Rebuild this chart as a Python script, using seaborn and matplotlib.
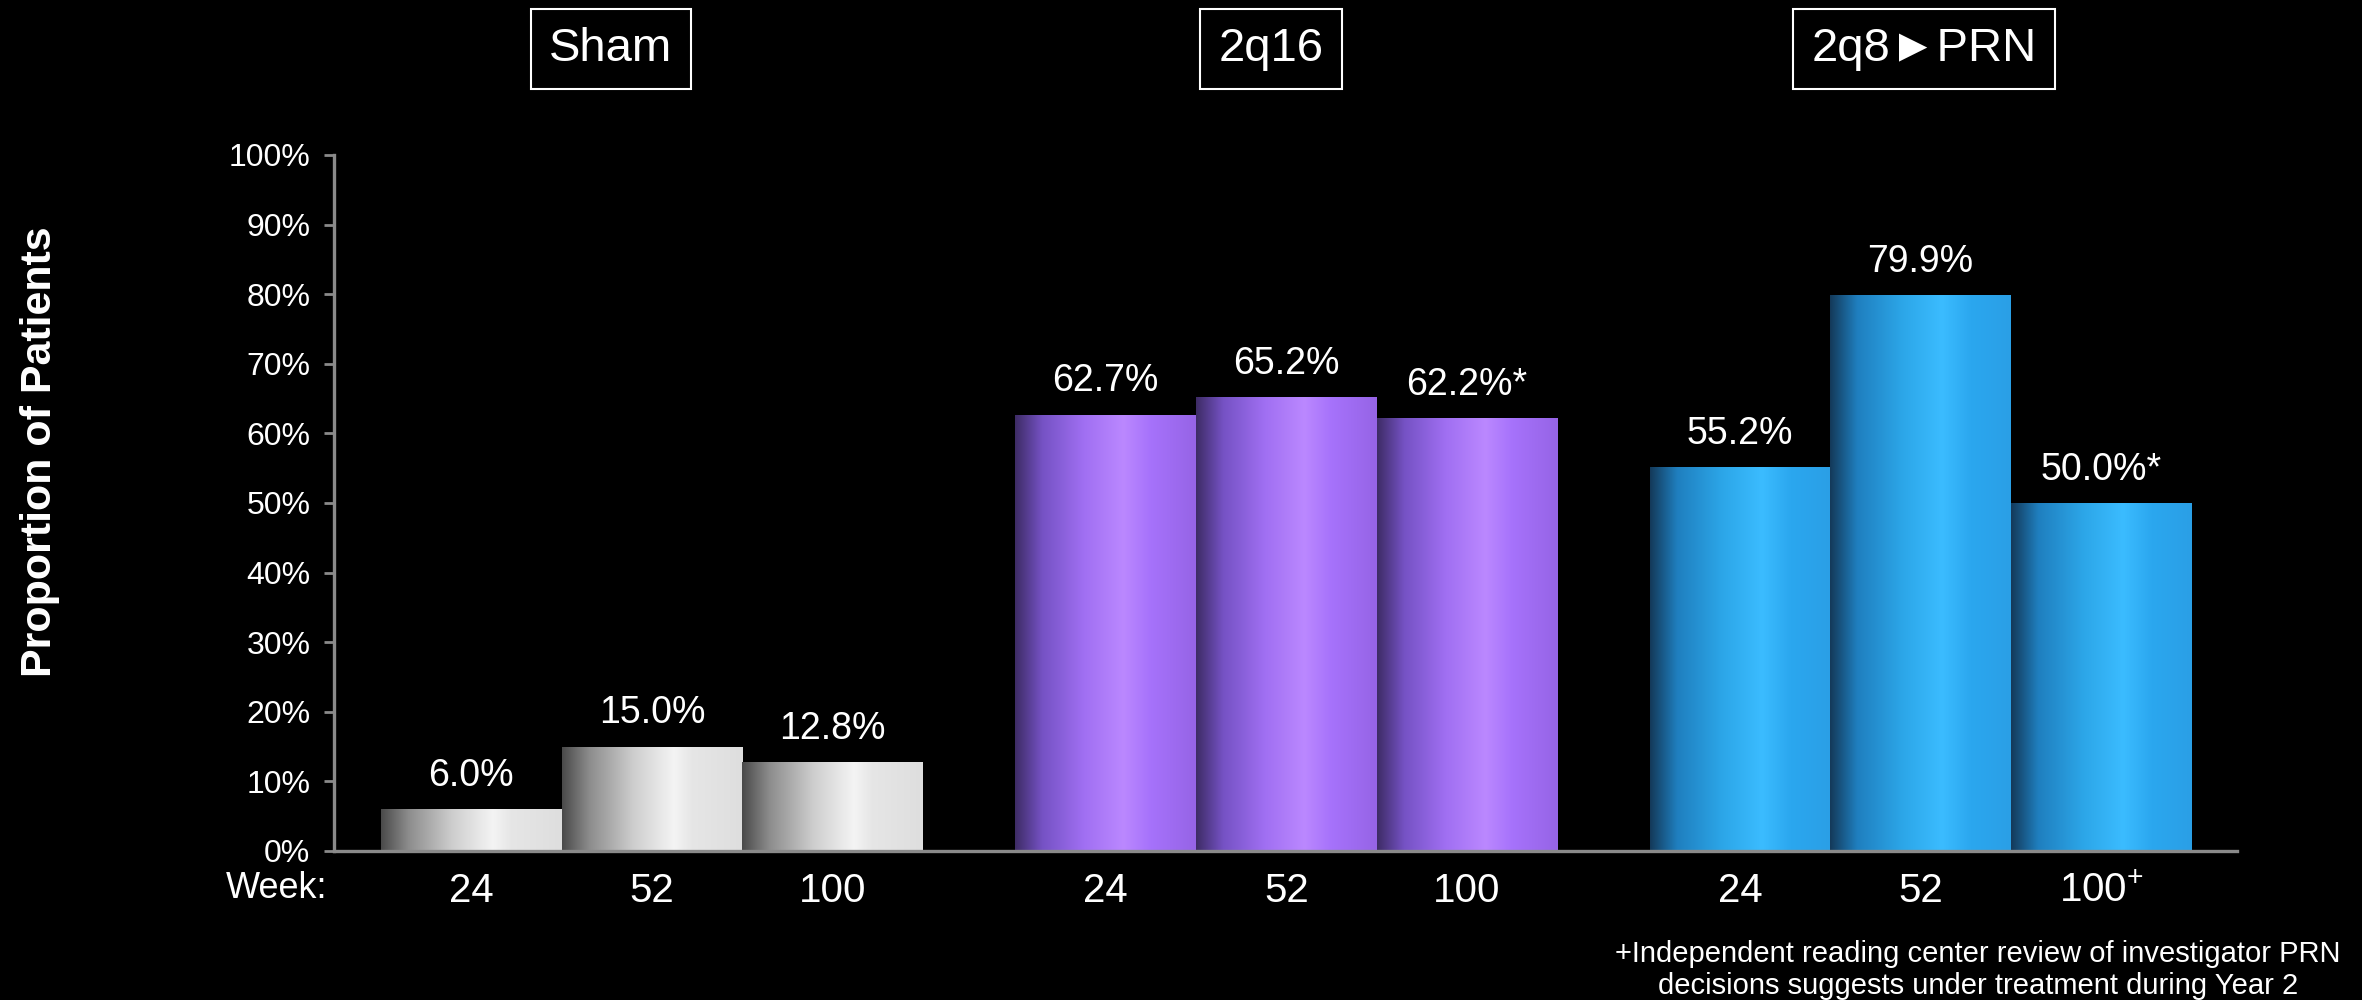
import numpy as np
import pandas as pd
import seaborn as sns
import matplotlib.pyplot as plt
from matplotlib.colors import to_rgb

# ---------------- data ----------------
groups = ["Sham", "2q16", "2q8\u25BAPRN"]
week_labels = ["24", "52", "100"]
week_labels_prn = ["24", "52", "100$^{+}$"]
sham_vals = [6.0, 15.0, 12.8]
q16_vals = [62.7, 65.2, 62.2]
q8_vals = [55.2, 79.9, 50.0]
sham_suffix = ["", "", ""]
q16_suffix = ["", "", "*"]
q8_suffix = ["", "", "*"]
y_ticks = [0, 10, 20, 30, 40, 50, 60, 70, 80, 90, 100]
footnote = ("+Independent reading center review of investigator PRN\n"
            "decisions suggests under treatment during Year 2")

# ---------------- style ----------------
sns.set_style("dark")
plt.rcParams['font.family'] = ['Liberation Sans', 'DejaVu Sans']
plt.rcParams['mathtext.fontset'] = 'custom'
plt.rcParams['mathtext.rm'] = 'Liberation Sans'
plt.rcParams['mathtext.default'] = 'regular'

group_gap = 3.51
rows = []
for g, (vals, suf) in enumerate([(sham_vals, sham_suffix), (q16_vals, q16_suffix),
                                 (q8_vals, q8_suffix)]):
    for i, v in enumerate(vals):
        rows.append({"pos": g * group_gap + i + 0.5, "value": v,
                     "group": groups[g], "suffix": suf[i]})
df = pd.DataFrame(rows)

base_colors = {"Sham": "#d0d0d0", "2q16": "#a574f5", "2q8\u25BAPRN": "#2aa8f0"}
grad_stops = {
    "Sham": [(0.0, "#4a4a4a"), (0.15, "#8c8c8c"), (0.4, "#cfcfcf"),
             (0.62, "#f4f4f4"), (0.72, "#e6e6e6"), (1.0, "#dedede")],
    "2q16": [(0.0, "#3e2c66"), (0.15, "#7552c4"), (0.38, "#a06ff2"),
             (0.6, "#bb88ff"), (0.75, "#a672fb"), (1.0, "#9664e6")],
    "2q8\u25BAPRN": [(0.0, "#143a5a"), (0.15, "#1f7fbf"), (0.4, "#2ca6e8"),
                     (0.62, "#3bbcff"), (0.78, "#2ba7ef"), (1.0, "#2a9fe6")],
}

fig = plt.figure(figsize=(23.62, 10), dpi=100, facecolor="black")
ax = fig.add_axes([0.1414, 0.149, 0.947 - 0.1414, 0.696])
ax.set_facecolor("black")

sns.barplot(data=df, x="pos", y="value", hue="group", palette=base_colors,
            native_scale=True, width=1.0, dodge=False, legend=False,
            saturation=1, linewidth=0, ax=ax)


def make_grad(stops, n=256):
    xs = np.linspace(0, 1, n)
    pts = [s[0] for s in stops]
    cols = np.array([to_rgb(s[1]) for s in stops])
    out = np.stack([np.interp(xs, pts, cols[:, k]) for k in range(3)], axis=1)
    return out[np.newaxis, :, :]


for p in list(ax.patches):
    w = p.get_width()
    if w <= 0:
        continue
    cx = p.get_x() + w / 2
    row = df.iloc[(df["pos"] - cx).abs().argmin()]
    grad = make_grad(grad_stops[row["group"]])
    im = ax.imshow(grad, extent=[p.get_x(), p.get_x() + w, p.get_y(), p.get_y() + p.get_height()],
                   aspect="auto", interpolation="bilinear", zorder=p.get_zorder() + 0.1)
    im.set_clip_path(p)
    ax.annotate(f"{row['value']:.1f}%" + row["suffix"],
                (cx, row["value"]), xytext=(0, 11), textcoords="offset points",
                ha="center", va="bottom", color="white", fontsize=27)

ax.set_xlim(-0.26, 10.27)
ax.set_ylim(0, 100)

# axes styling
for s in ["top", "right"]:
    ax.spines[s].set_visible(False)
for s in ["left", "bottom"]:
    ax.spines[s].set_color("#8a8a8a")
    ax.spines[s].set_linewidth(2.4)
    ax.spines[s].set_zorder(5)
ax.grid(False)

ax.set_yticks(y_ticks)
ax.set_yticklabels([f"{v}%" for v in y_ticks])
ax.tick_params(axis="y", colors="#8a8a8a", labelcolor="white", labelsize=23,
               length=7, width=2, pad=10, left=True)
ax.set_xticks(df["pos"].tolist())
ax.set_xticklabels(week_labels + week_labels + week_labels_prn)
ax.tick_params(axis="x", length=0, labelcolor="white", labelsize=29, pad=15)
ax.set_xlabel("")
ax.set_ylabel("")

fig.text(327 / 2362, 1 - 889 / 1000, "Week:", ha="right", va="center",
         color="white", fontsize=26)

fig.text(40 / 2362, 0.548, "Proportion of Patients", rotation=90, ha="center",
         va="center", color="white", fontsize=31, fontweight="bold")

box_x = [611, 1271, 1924]
for g, bx in zip(groups, box_x):
    fig.text(bx / 2362, 0.951, g, ha="center", va="center", color="white",
             fontsize=34,
             bbox=dict(boxstyle="square,pad=0.38", facecolor="black",
                       edgecolor="white", linewidth=1.5))

fig.text(1978 / 2362, 0.03, footnote, ha="center", va="center", color="white",
         fontsize=21, linespacing=1.15)

fig.savefig("out.png", dpi=100, facecolor="black")
